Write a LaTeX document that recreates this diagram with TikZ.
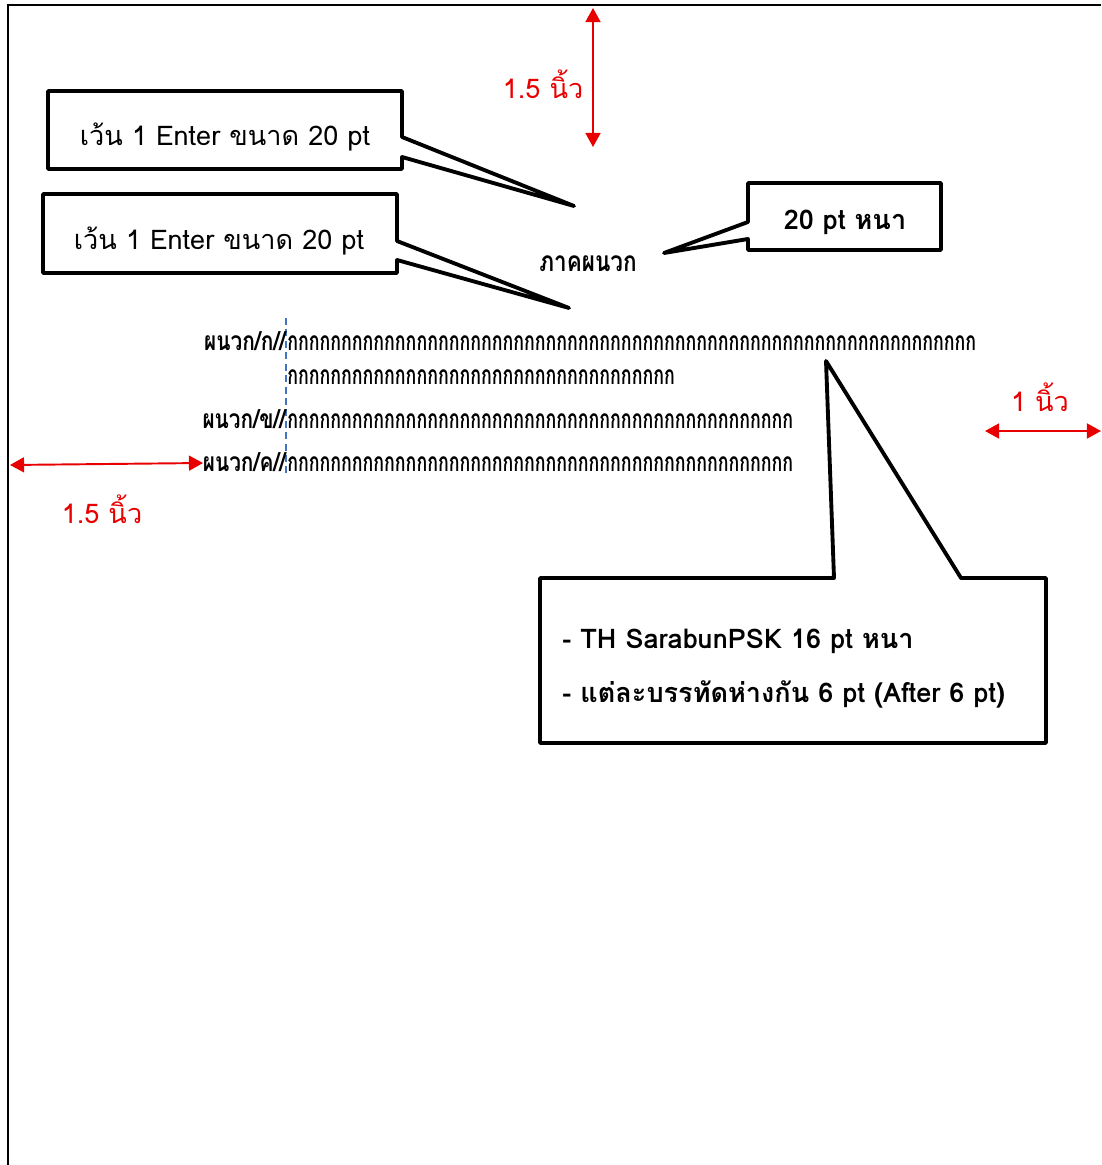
\documentclass[tikz,border=0pt]{standalone}
\usepackage{fontspec}
\usetikzlibrary{arrows.meta, positioning}
\newfontfamily\thaifont[Script=Thai]{Loma}
\newfontfamily\narrowfont[Script=Thai,FakeStretch=0.675]{Loma}
\newfontfamily\tagfont[Script=Thai,FakeStretch=0.79]{Loma}
\newfontfamily\titlefont[Script=Thai,FakeStretch=0.8]{Loma}
\definecolor{marginred}{RGB}{232,0,0}
\definecolor{guideblue}{RGB}{68,114,196}
\newcommand\kokai{กกกกกกกก}

\begin{document}
\begin{tikzpicture}[x=0.02cm, y=-0.02cm,
    callout/.style={draw=black, line width=2.2pt, line join=round, fill=white},
    note/.style={font=\thaifont\fontsize{15.4}{18}\selectfont, inner sep=0pt},
    notebold/.style={font=\thaifont\bfseries\fontsize{15.4}{18}\selectfont, inner sep=0pt},
    margin/.style={marginred, line width=1.1pt, {Triangle[length=8pt,width=8.5pt]}-{Triangle[length=8pt,width=8.5pt]}},
    marginlabel/.style={text=marginred, font=\thaifont\fontsize{15.4}{18}\selectfont, inner sep=0pt},
    bodytext/.style={font=\narrowfont\bfseries\fontsize{15}{18}\selectfont, inner sep=0pt},
    tagtext/.style={font=\tagfont\bfseries\fontsize{15}{18}\selectfont, inner sep=0pt, anchor=base east}]

    \useasboundingbox (0,0) rectangle (1101,1165);

    % Page edge
    \draw[line width=1.2pt] (1101,5) -- (8,5) -- (8,1165);

    % Margins
    \draw[margin] (593,8) -- (593,147);
    \node[marginlabel] (topm) at (543,84) {1.5 นิ้ว};
    \draw[margin] (10,465) -- (203,463);
    \node[marginlabel] (leftm) at (102,509) {1.5 นิ้ว};
    \draw[margin] (985,431) -- (1101,431);
    \node[marginlabel] (rightm) at (1040,397) {1 นิ้ว};

    % Callouts
    \draw[callout] (48,91) -- (402,91) -- (402,137) -- (574,206) -- (402,157)
        -- (402,169) -- (48,169) -- cycle;
    \node[note] (gap1) at (225,137) {เว้น 1 Enter ขนาด 20 pt};
    \draw[callout] (43,194) -- (397,194) -- (397,241) -- (569,308) -- (397,260)
        -- (397,273) -- (43,273) -- cycle;
    \node[note] (gap2) at (219,241) {เว้น 1 Enter ขนาด 20 pt};
    \draw[callout] (748,183) -- (941,183) -- (941,250) -- (748,250) -- (748,239)
        -- (664,253) -- (748,222) -- cycle;
    \node[notebold] (bold) at (845,222) {20 pt หนา};
    \draw[callout] (540,578) -- (834,578) -- (826,361) -- (961,578) -- (1046,578)
        -- (1046,743) -- (540,743) -- cycle;
    \node[notebold, anchor=west] (font) at (562,641) {- TH SarabunPSK 16 pt หนา};
    \node[notebold, anchor=west] (space) at (562,694) {- แต่ละบรรทัดห่างกัน 6 pt (After 6 pt)};

    % Title and entries
    \node[inner sep=0pt, font=\titlefont\bfseries\fontsize{16}{19}\selectfont] (title) at (588,264) {ภาคผนวก};
    \draw[guideblue, line width=1.1pt, dash pattern=on 4pt off 2.5pt] (286,318) -- (286,475);
    \node[tagtext] (tagA) at (286,351) {ผนวก/ก//};
    \node[bodytext, anchor=base west] (rowA) at (287,351) {\kokai\kokai\kokai\kokai\kokai\kokai\kokai\kokai};
    \node[bodytext, anchor=base west] (rowAA) at (287,384) {\kokai\kokai\kokai\kokai กกกก};
    \node[tagtext] (tagB) at (286,428) {ผนวก/ข//};
    \node[bodytext, anchor=base west] (rowB) at (287,428) {\kokai\kokai\kokai\kokai\kokai กกกกกกก};
    \node[tagtext] (tagC) at (286,471) {ผนวก/ค//};
    \node[bodytext, anchor=base west] (rowC) at (287,471) {\kokai\kokai\kokai\kokai\kokai กกกกกกก};
\end{tikzpicture}
\end{document}
